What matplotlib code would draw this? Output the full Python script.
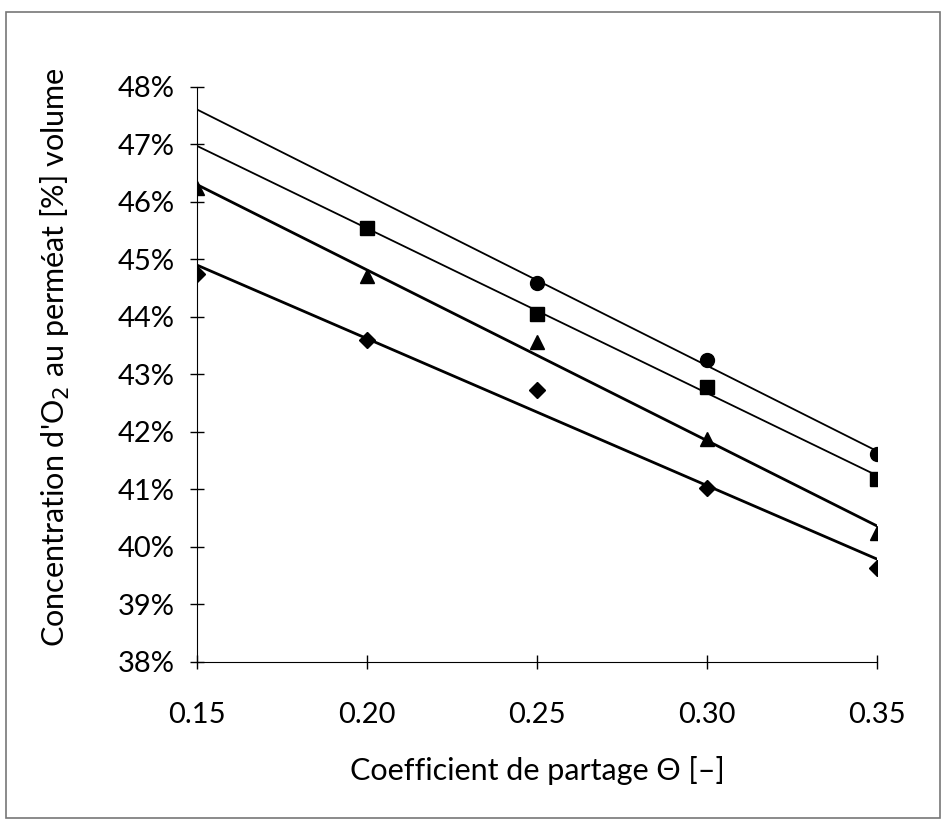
import numpy as np
import matplotlib
matplotlib.use("Agg")
from matplotlib import pyplot as plt
from matplotlib.patches import Rectangle
from matplotlib.ticker import FuncFormatter

plt.rcParams['font.family'] = ['Lato', 'DejaVu Sans']

# Data (oxygen concentration in permeate, % volume)
x_circle = [0.25, 0.30, 0.35]
y_circle = [44.59, 43.25, 41.62]

x_square = [0.20, 0.25, 0.30, 0.35]
y_square = [45.54, 44.06, 42.78, 41.19]

x_triangle = [0.15, 0.20, 0.25, 0.30, 0.35]
y_triangle = [46.25, 44.72, 43.57, 41.88, 40.25]

x_diamond = [0.15, 0.20, 0.25, 0.30, 0.35]
y_diamond = [44.74, 43.60, 42.73, 41.02, 39.64]

x_ticks = [0.15, 0.20, 0.25, 0.30, 0.35]
y_ticks = [38, 39, 40, 41, 42, 43, 44, 45, 46, 47, 48]

fig = plt.figure(figsize=(9.46, 8.25), dpi=100)
ax = fig.add_axes([0.2082, 0.1976, 0.7188, 0.697])

# outer frame round the chart
fig.patches.append(Rectangle((0.006, 0.008), 0.988, 0.977, transform=fig.transFigure,
                             fill=False, edgecolor='#777777', linewidth=1.2))

series = [
    (x_circle, y_circle, 'o', 10, 1.3),
    (x_square, y_square, 's', 9.5, 1.3),
    (x_triangle, y_triangle, '^', 10.5, 2.0),
    (x_diamond, y_diamond, 'D', 8.5, 2.0),
]
xfit = np.array([0.15, 0.35])
for xs, ys, m, ms, lw in series:
    a, b = np.polyfit(xs, ys, 1)
    ax.plot(xfit, a * xfit + b, color='black', linewidth=lw, zorder=2)
    ax.plot(xs, ys, linestyle='none', marker=m, markersize=ms, color='black', zorder=3)

ax.set_xlim(0.15, 0.35)
ax.set_ylim(38, 48)
ax.set_xticks(x_ticks)
ax.set_yticks(y_ticks)
ax.xaxis.set_major_formatter(FuncFormatter(lambda v, p: '%.2f' % v))
ax.yaxis.set_major_formatter(FuncFormatter(lambda v, p: '%d%%' % round(v)))
ax.tick_params(axis='both', direction='inout', length=10, width=1, labelsize=21)
ax.tick_params(axis='y', pad=11)
ax.tick_params(axis='x', pad=24)
ax.spines['top'].set_visible(False)
ax.spines['right'].set_visible(False)
ax.set_xlabel('Coefficient de partage \u0398 [\u2013]', fontsize=22, labelpad=20)
ax.set_ylabel("Concentration d'O$_2$ au perm\u00e9at [%] volume", fontsize=22)
ax.yaxis.set_label_coords(-0.184, 0.53)

fig.savefig('out.png', dpi=100)
